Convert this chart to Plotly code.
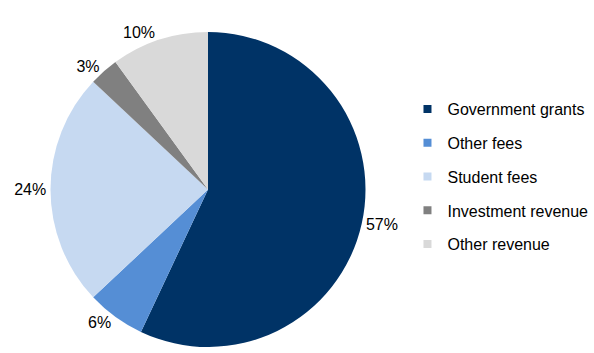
import plotly.graph_objects as go

categories = ["Government grants", "Other fees", "Student fees", "Investment revenue", "Other revenue"]
values = [57, 6, 24, 3, 10]
colors = ["#003366", "#558ED5", "#C6D9F1", "#808080", "#D9D9D9"]

W, H = 594, 353
fig = go.Figure()
fig.add_trace(go.Pie(
    labels=categories, values=values, sort=False, direction="clockwise", rotation=0,
    marker=dict(colors=colors, line=dict(width=0)),
    textinfo="percent", texttemplate="%{percent:.0%}", textposition="outside",
    outsidetextfont=dict(family="Liberation Sans, Arial", size=16, color="#000000"),
    showlegend=False,
    domain=dict(x=[50 / W, 366 / W], y=[6 / H, 321 / H]),
))
for c, col in zip(categories, colors):
    fig.add_trace(go.Scatter(
        x=[None], y=[None], mode="markers", name=c, legendgroup=c,
        marker=dict(symbol="square", size=8, color=col),
    ))

fig.update_layout(
    width=W, height=H, margin=dict(l=0, r=0, t=0, b=0),
    paper_bgcolor="white", plot_bgcolor="white",
    xaxis=dict(visible=False), yaxis=dict(visible=False),
    font=dict(family="Liberation Sans, Arial", size=16, color="#000000"),
    legend=dict(x=0.686, y=0.5, xanchor="left", yanchor="middle",
                tracegroupgap=10, itemwidth=30, font=dict(size=16)),
)
fig.write_html("out.html")
